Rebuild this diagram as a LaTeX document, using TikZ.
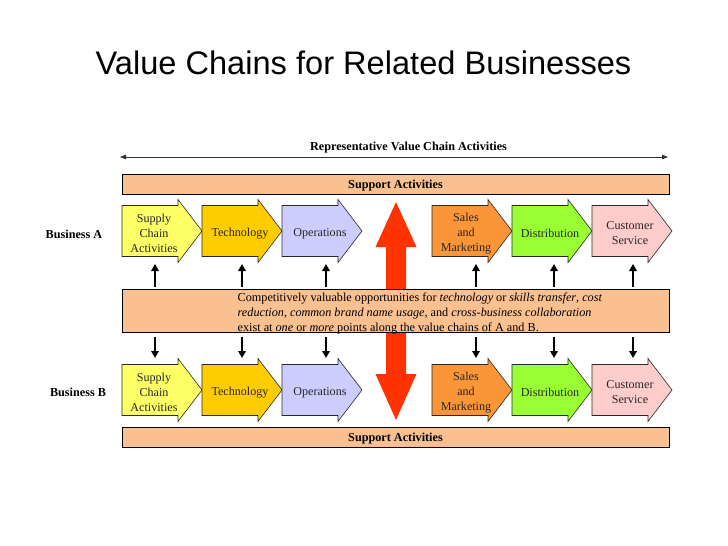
\documentclass[tikz,border=0pt]{standalone}
\usepackage{fontspec}
\setmainfont{Liberation Serif}
\newfontfamily\titlefont{Liberation Sans}
\usetikzlibrary{arrows.meta}
\definecolor{peach}{RGB}{250,192,143}
\definecolor{cSupply}{RGB}{255,255,102}
\definecolor{cTech}{RGB}{255,204,0}
\definecolor{cOps}{RGB}{204,204,255}
\definecolor{cSales}{RGB}{250,150,55}
\definecolor{cDist}{RGB}{153,255,51}
\definecolor{cCust}{RGB}{255,204,204}
\definecolor{cRed}{RGB}{255,51,0}
\definecolor{edge}{RGB}{40,40,40}
\tikzset{
  chevline/.style={draw=edge, line width=0.6pt},
  chevtext/.style={align=center, inner sep=0pt, font=\fontsize{12.1}{15}\selectfont, text=black!85},
  barbox/.style={draw=black, line width=0.7pt, fill=peach},
  boldlabel/.style={font=\fontsize{12.2}{14}\selectfont\bfseries, inner sep=0pt},
  vconn/.style={line width=2pt, -{Triangle[width=7.5pt,length=7pt]}, black},
  spanarrow/.style={line width=0.8pt, black!80, {Triangle[width=4.5pt,length=6pt]}-{Triangle[width=4.5pt,length=6pt]}}
}
% name, x0, ycenter, fill, text, text x offset
\newcommand\chevshape[6]{%
  \draw[chevline, fill=#4] (#2,#3-25.5) -- (#2+56,#3-25.5) -- (#2+56,#3-31.5) -- (#2+80,#3) -- (#2+56,#3+31.5) -- (#2+56,#3+25.5) -- (#2,#3+25.5) -- cycle;
  \node[chevtext] (#1) at (#2+#6,#3+2.5) {#5};
}
\begin{document}
\begin{tikzpicture}[x=1pt,y=-1pt]
\useasboundingbox[fill=white] (0,0) rectangle (728,546);

% title
\node[font=\titlefont\fontsize{32.6}{38}\selectfont, anchor=base, inner sep=0pt] (title) at (363.5,74) {Value Chains for Related Businesses};

% representative span
\node[boldlabel] (rep) at (408.5,147.5) {Representative Value Chain Activities};
\coordinate (spanL) at (120,157);
\coordinate (spanR) at (668,157);
\draw[spanarrow] (spanL) -- (spanR);

% red double arrow (behind middle box)
\fill[cRed] (396,202) -- (416.5,247) -- (406,247) -- (406,374) -- (416.5,374) -- (396,420)
  -- (375.5,374) -- (386,374) -- (386,247) -- (375.5,247) -- cycle;

% support bars
\node[barbox, minimum width=547pt, minimum height=20pt, inner sep=0pt] (supA) at (395.5,184) {};
\node[boldlabel] at ([yshift=-2pt]supA.center) {Support Activities};
\node[barbox, minimum width=547pt, minimum height=20pt, inner sep=0pt] (supB) at (395.5,437) {};
\node[boldlabel] at ([yshift=-2pt]supB.center) {Support Activities};

% middle box
\node[barbox, minimum width=547pt, minimum height=43pt, inner sep=0pt] (mid) at (395.5,310.5) {};
\node[align=left, anchor=west, inner sep=0pt, font=\fontsize{12.2}{15}\selectfont] (midtext) at (237.5,313.5)
  {Competitively valuable opportunities for \textit{technology} or \textit{skills transfer}, \textit{cost}\\
   \textit{reduction, common brand name usage}, and \textit{cross-business collaboration}\\
   exist at \textit{one} or \textit{more} points along the value chains of A and B.};

% business labels
\node[boldlabel] (busA) at (74,234.5) {Business A};
\node[boldlabel] (busB) at (78,392.5) {Business B};

% row A chevrons
\chevshape{a1}{122}{231}{cSupply}{Supply\\Chain\\Activities}{32}
\chevshape{a2}{202}{231}{cTech}{Technology}{38}
\chevshape{a3}{282}{231}{cOps}{Operations}{38}
\chevshape{a4}{432}{231}{cSales}{Sales\\and\\Marketing}{34}
\chevshape{a5}{512}{231}{cDist}{Distribution}{38}
\chevshape{a6}{592}{231}{cCust}{Customer\\Service}{38}

% row B chevrons
\chevshape{b1}{122}{390}{cSupply}{Supply\\Chain\\Activities}{32}
\chevshape{b2}{202}{390}{cTech}{Technology}{38}
\chevshape{b3}{282}{390}{cOps}{Operations}{38}
\chevshape{b4}{432}{390}{cSales}{Sales\\and\\Marketing}{34}
\chevshape{b5}{512}{390}{cDist}{Distribution}{38}
\chevshape{b6}{592}{390}{cCust}{Customer\\Service}{38}

% vertical connectors
\foreach \i/\x in {1/155,2/242,3/326,4/476,5/554,6/633}{
  \coordinate (u\i s) at (\x,287);
  \coordinate (u\i e) at (\x,264);
  \coordinate (d\i s) at (\x,337);
  \coordinate (d\i e) at (\x,358);
  \draw[vconn] (u\i s) -- (u\i e);
  \draw[vconn] (d\i s) -- (d\i e);
}
\end{tikzpicture}
\end{document}
